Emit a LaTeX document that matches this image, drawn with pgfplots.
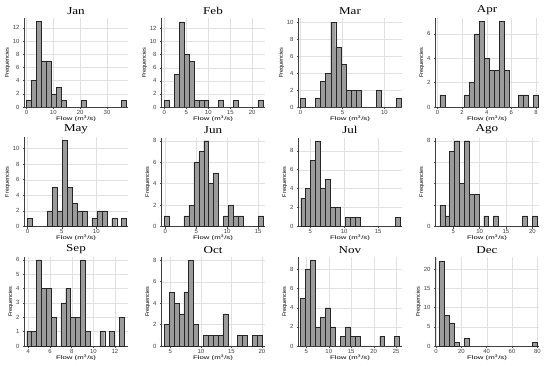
\documentclass[border=0pt]{standalone}
\usepackage{fontspec}
\setmainfont{Liberation Sans}
\newfontfamily\titlefont{Liberation Serif}[FakeStretch=1.25]
\newfontfamily\xlabfont{Liberation Sans}[FakeStretch=1.5]
\usepackage{pgfplots}
\pgfplotsset{compat=1.18}
\usepgfplotslibrary{groupplots}
\definecolor{barfill}{RGB}{155,155,155}
\begin{document}
\begin{tikzpicture}
\begin{groupplot}[
  group style={group size=4 by 3, horizontal sep=33bp, vertical sep=30.5bp},
  width=104bp, height=89bp, scale only axis,
  axis lines=left, axis line style={-, black!75, line width=0.5bp},
  ymin=0, ybar,
  grid=major, grid style={black!12, line width=0.3bp},
  tick style={black!70, line width=0.4bp}, major tick length=2bp,
  tick label style={font=\fontsize{6}{6}\selectfont, text=black!75},
  xticklabel style={inner sep=1bp},
  /pgf/number format/assume math mode=true,
  title style={font=\titlefont\fontsize{10.5}{10.5}\selectfont, yshift=-6bp},
  xlabel={Flow (m\textsuperscript{3}/s)},
  ylabel={Frequencies},
  xlabel style={font=\xlabfont\fontsize{5.2}{5.2}\selectfont, inner sep=1bp, yshift=1bp},
  ylabel style={font=\fontsize{5.5}{5.5}\selectfont, yshift=-4bp},
  hb/.style={fill=barfill, draw=black!85, line width=0.4bp},
]
% Jan
\nextgroupplot[title=Jan, xmin=-0.9, xmax=37.8, ymax=13.5, xtick={0,10,20,30}, ytick={0,2,...,12}, bar width=1.86]
\coordinate (TL) at (rel axis cs:0,1);
\addplot[hb] coordinates {(0.93,1)(2.79,4)(4.65,13)(6.51,7)(8.37,7)(10.23,2)(12.09,3)(13.95,1)(21.39,1)(36.27,1)};
% Feb
\nextgroupplot[title=Feb, xmin=-0.75, xmax=22.9, ymax=13.6, xtick={0,5,10,15,20}, ytick={0,2,...,12}, bar width=1.12]
\addplot[hb] coordinates {(0.56,1)(2.80,5)(3.92,13)(5.04,8)(6.16,7)(7.28,1)(8.40,1)(9.52,1)(12.88,1)(16.24,1)(21.84,1)};
% Mar
\nextgroupplot[title=Mar, xmin=-0.3, xmax=12.1, ymax=10.5, xtick={0,5,10}, ytick={0,2,...,10}, bar width=0.6]
\addplot[hb] coordinates {(0.3,1)(2.1,1)(2.7,3)(3.3,4)(3.9,10)(4.5,7)(5.1,5)(5.7,2)(6.3,2)(6.9,2)(9.3,2)(11.7,1)};
% Apr
\nextgroupplot[title=Apr, xmin=-0.2, xmax=8.25, ymax=7.3, xtick={0,2,4,6,8}, ytick={0,2,4,6}, bar width=0.4]
\addplot[hb] coordinates {(0.4,1)(2.4,1)(2.8,2)(3.2,6)(3.6,7)(4.0,4)(4.4,3)(4.8,3)(5.2,7)(5.6,3)(6.8,1)(7.2,1)(8.0,1)};
% May
\nextgroupplot[title=May, xmin=-0.5, xmax=14.6, ymax=11.4, xtick={0,5,10}, ytick={0,2,...,10}, bar width=0.72]
\addplot[hb] coordinates {(0.36,1)(3.24,2)(3.96,5)(4.68,2)(5.40,11)(6.12,5)(6.84,3)(7.56,2)(8.28,2)(9.72,1)(10.44,2)(11.16,2)(12.60,1)(14.04,1)};
% Jun
\nextgroupplot[title=Jun, xmin=-0.7, xmax=16.1, ymax=8.3, xtick={0,5,10,15}, ytick={0,2,...,8}, bar width=0.8]
\addplot[hb] coordinates {(0.2,1)(3.4,1)(4.2,2)(5.0,6)(5.8,7)(6.6,8)(7.4,4)(8.2,5)(9.8,1)(10.6,2)(11.4,1)(12.2,1)(15.4,1)};
% Jul
\nextgroupplot[title=Jul, xmin=3.2, xmax=18.5, ymax=9.4, xtick={5,10,15}, ytick={0,2,...,8}, bar width=0.73]
\addplot[hb] coordinates {(3.965,3)(4.695,4)(5.425,7)(6.155,9)(6.885,4)(7.615,5)(8.345,2)(9.075,2)(10.535,1)(11.265,1)(11.995,1)(17.835,1)};
% Ago
\nextgroupplot[title=Ago, xmin=1.56, xmax=21.25, ymax=8.3, xtick={5,10,15,20}, ytick={0,2,4,6,8}, yticklabels={0,,,,8}, bar width=0.92]
\addplot[hb] coordinates {(2.96,2)(3.88,1)(4.80,7)(5.72,8)(6.64,4)(7.56,8)(8.48,3)(9.40,3)(11.24,1)(13.08,1)(18.60,1)(20.44,1)};
% Sep
\nextgroupplot[title=Sep, xmin=3.6, xmax=13.2, ymax=6.2, xtick={4,6,8,10,12}, ytick={0,1,...,6}, bar width=0.45]
\addplot[hb] coordinates {(4.075,1)(4.525,1)(4.975,6)(5.425,4)(5.875,4)(6.325,2)(7.225,3)(7.675,4)(8.125,2)(8.575,2)(9.025,6)(9.475,1)(10.825,1)(11.725,1)(12.625,2)};
% Oct
\nextgroupplot[title=Oct, xmin=3.47, xmax=20.5, ymax=8.3, xtick={5,10,15,20}, ytick={0,2,...,8}, bar width=0.8]
\addplot[hb] coordinates {(4.4,2)(5.2,5)(6.0,4)(6.8,3)(7.6,5)(8.4,8)(9.2,2)(10.8,1)(11.6,1)(12.4,1)(13.2,1)(14.0,3)(16.4,1)(17.2,1)(18.8,1)(19.6,1)};
% Nov
\nextgroupplot[title=Nov, xmin=3.15, xmax=26.3, ymax=9.3, xtick={5,10,15,20,25}, ytick={0,2,...,8}, bar width=1.1]
\addplot[hb] coordinates {(4.29,5)(5.39,8)(6.49,9)(7.59,2)(8.69,3)(9.79,4)(10.89,2)(13.09,1)(14.19,2)(15.29,1)(16.39,1)(21.89,1)(25.19,1)};
% Dec
\nextgroupplot[title=Dec, xmin=-0.8, xmax=81.3, ymax=23.1, xtick={0,20,40,60,80}, ytick={0,5,...,20}, bar width=3.85]
\addplot[hb] coordinates {(4.725,22)(8.575,8)(12.425,6)(16.275,1)(23.975,2)(77.875,1)};
\end{groupplot}
\pgfresetboundingbox
\path ([shift={(-24bp,18bp)}]TL) rectangle ++(550bp,-366bp);
\end{tikzpicture}
\end{document}
